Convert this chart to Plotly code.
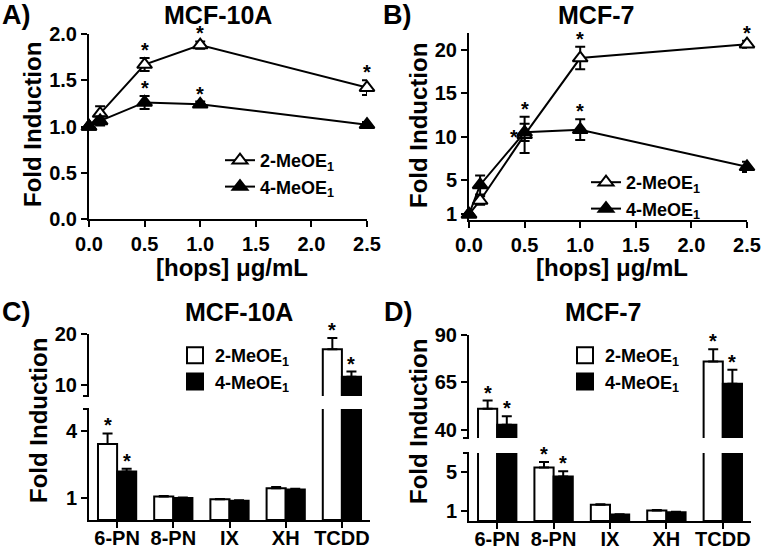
import plotly.graph_objects as go

W, H = 762, 549
FONT = "Liberation Sans, Arial, Helvetica, sans-serif"

# ---------------- data ----------------
doses = [0.0, 0.1, 0.5, 1.0, 2.5]
dose_ticks = [0.0, 0.5, 1.0, 1.5, 2.0, 2.5]

# Panel A: MCF-10A
a_2meo = [1.00, 1.14, 1.67, 1.88, 1.42]
a_2meo_err = [0.0, 0.08, 0.07, 0.04, 0.08]
a_4meo = [1.00, 1.06, 1.26, 1.24, 1.02]
a_4meo_err = [0.0, 0.05, 0.07, 0.03, 0.03]
a_2meo_sig = [False, False, True, True, True]
a_4meo_sig = [False, False, True, True, False]
a_yticks = [0.0, 0.5, 1.0, 1.5, 2.0]

# Panel B: MCF-7
b_2meo = [1.0, 2.6, 10.2, 19.1, 20.7]
b_2meo_err = [0.0, 0.5, 2.1, 1.3, 0.4]
b_4meo = [1.0, 4.4, 10.5, 10.8, 6.5]
b_4meo_err = [0.0, 1.1, 1.0, 1.2, 0.6]
b_2meo_sig = [False, False, True, True, True]
b_4meo_sig = [False, False, True, True, False]
b_yticks = [1, 5, 10, 15, 20]

# Panels C/D: compounds
compounds = ["6-PN", "8-PN", "IX", "XH", "TCDD"]
c_2meo = [3.42, 1.06, 0.93, 1.43, 17.0]
c_2meo_err = [0.48, 0.02, 0.02, 0.06, 2.2]
c_4meo = [2.18, 0.99, 0.87, 1.37, 11.6]
c_4meo_err = [0.13, 0.02, 0.02, 0.04, 1.0]
c_2meo_sig = [True, False, False, False, True]
c_4meo_sig = [True, False, False, False, True]

d_2meo = [51.0, 5.5, 1.67, 1.07, 76.0]
d_2meo_err = [4.4, 0.57, 0.06, 0.05, 6.5]
d_4meo = [42.6, 4.57, 0.67, 0.90, 64.3]
d_4meo_err = [4.5, 0.56, 0.03, 0.04, 7.3]
d_2meo_sig = [True, True, False, False, True]
d_4meo_sig = [True, True, False, False, True]

c_low_ticks, c_up_ticks = [1, 4], [10, 20]
d_low_ticks, d_up_ticks = [1, 5], [40, 65, 90]

NAME2 = "2-MeOE<sub>1</sub>"
NAME4 = "4-MeOE<sub>1</sub>"


def fx(p):
    return p / W


def fy(p):
    return 1 - p / H


fig = go.Figure()
ann = []

STAR_FONT = dict(family=FONT, size=20, color="black", weight="bold")
BARGAP = 0.32


def add_star(xa, ya, x, y, xshift=0, side="top"):
    d = dict(text="*", x=x, y=y, xref=xa, yref=ya, showarrow=False,
             font=STAR_FONT, xshift=xshift)
    if side == "top":
        d.update(xanchor="center", yanchor="bottom", yshift=-5)
    else:
        d.update(xanchor="right", yanchor="middle", xshift=xshift - 5,
                 yshift=-5)
    ann.append(d)


def line_panel(xa, ya, leg, series, star_sides):
    for (name, vals, errs, fill, grp) in series:
        fig.add_trace(go.Scatter(
            x=doses, y=vals, mode="lines+markers", name=name,
            legend=leg, legendgroup=leg + grp,
            line=dict(color="black", width=2),
            marker=dict(symbol="triangle-up", size=13, color=fill,
                        line=dict(color="black", width=2)),
            error_y=dict(type="data", array=errs, color="black",
                         thickness=2, width=5),
            cliponaxis=False, xaxis=xa, yaxis=ya))
    for (name, vals, errs, fill, grp), (sig, sides) in zip(series, star_sides):
        for d, v, e, s, side in zip(doses, vals, errs, sig, sides):
            if s:
                add_star(xa, ya, d, v + e if side == "top" else v, 0, side)


T = "top"
line_panel("x", "y", "legend",
           [(NAME2, a_2meo, a_2meo_err, "white", "2"),
            (NAME4, a_4meo, a_4meo_err, "black", "4")],
           [(a_2meo_sig, [T] * 5), (a_4meo_sig, [T] * 5)])
line_panel("x2", "y2", "legend2",
           [(NAME2, b_2meo, b_2meo_err, "white", "2"),
            (NAME4, b_4meo, b_4meo_err, "black", "4")],
           [(b_2meo_sig, [T] * 5),
            (b_4meo_sig, [T, T, "left", T, T])])


def bar_panel(axes, leg, series, lower_top, width_px):
    (xl, yl), (xu, yu) = axes
    cat_px = width_px / len(compounds)
    half = cat_px * (1 - BARGAP) / 4.0
    for part, xa, ya in (("lower", xl, yl), ("upper", xu, yu)):
        for (name, vals, errs, sig, fill, grp) in series:
            fig.add_trace(go.Bar(
                x=compounds, y=vals, offsetgroup=grp,
                marker=dict(color=fill, line=dict(color="black", width=2)),
                error_y=dict(type="data", symmetric=False, array=errs,
                             arrayminus=[0] * len(errs), color="black",
                             thickness=2, width=5),
                showlegend=False, xaxis=xa, yaxis=ya))
    for k, (name, vals, errs, sig, fill, grp) in enumerate(series):
        shift = -half if k == 0 else half
        for c, v, e, s in zip(compounds, vals, errs, sig):
            if not s:
                continue
            top = v + e
            if top > lower_top:
                add_star(xu, yu, c, top, shift)
            else:
                add_star(xl, yl, c, top, shift)
    for (name, vals, errs, sig, fill, grp) in series:
        fig.add_trace(go.Scatter(
            x=[None], y=[None], mode="markers", name=name, legend=leg,
            marker=dict(symbol="square", size=16, color=fill,
                        line=dict(color="black", width=2)),
            xaxis=xl, yaxis=yl))


C_LOW = [0, 5]
C_UP = [7.8, 20]
D_LOW = [0, 7]
D_UP = [35.6, 90]

# pixel geometry of panels
A_X = (89, 367); A_Y = (219, 34)
B_X = (469, 747); B_Y = (220, 33)
C_X = (89, 370); C_LY = (520, 409); C_UY = (396, 334)
D_X = (469, 751); D_LY = (521, 453); D_UY = (438, 335)

bar_panel((("x3", "y3"), ("x4", "y4")), "legend3",
          [(NAME2, c_2meo, c_2meo_err, c_2meo_sig, "white", "2"),
           (NAME4, c_4meo, c_4meo_err, c_4meo_sig, "black", "4")],
          C_LOW[1], C_X[1] - C_X[0])
bar_panel((("x5", "y5"), ("x6", "y6")), "legend4",
          [(NAME2, d_2meo, d_2meo_err, d_2meo_sig, "white", "2"),
           (NAME4, d_4meo, d_4meo_err, d_4meo_sig, "black", "4")],
          D_LOW[1], D_X[1] - D_X[0])

TICKFONT = dict(family=FONT, size=20, color="black", weight="bold")
common = dict(showline=True, linecolor="black", linewidth=2, ticks="outside",
              ticklen=6, tickwidth=2, tickcolor="black", showgrid=False,
              zeroline=False, tickfont=TICKFONT, fixedrange=True,
              automargin=False)


def dom_x(p):
    return [fx(p[0]), fx(p[1])]


def dom_y(p):
    return [fy(p[0]), fy(p[1])]


legend_font = dict(family=FONT, size=18, color="black", weight="bold")
leg_common = dict(font=legend_font, bgcolor="rgba(0,0,0,0)", borderwidth=0,
                  xanchor="left", yanchor="top", itemwidth=30,
                  traceorder="normal")

fig.update_layout(
    template="none",
    width=W, height=H, autosize=False,
    margin=dict(l=0, r=0, t=0, b=0, pad=0, autoexpand=False),
    paper_bgcolor="white", plot_bgcolor="white",
    font=dict(family=FONT, color="black"),
    barmode="group", bargap=BARGAP, bargroupgap=0,
    xaxis=dict(common, domain=dom_x(A_X), range=[0, 2.5], tickvals=dose_ticks,
               tickformat=".1f", anchor="y"),
    yaxis=dict(common, domain=dom_y(A_Y), range=[0, 2], tickvals=a_yticks,
               tickformat=".1f", anchor="x"),
    xaxis2=dict(common, domain=dom_x(B_X), range=[0, 2.5], tickvals=dose_ticks,
                tickformat=".1f", anchor="y2"),
    yaxis2=dict(common, domain=dom_y(B_Y), range=[0.34, 22], tickvals=b_yticks,
                anchor="x2"),
    xaxis3=dict(common, domain=dom_x(C_X), type="category",
                range=[-0.5, 4.5], anchor="y3", ticklabelstandoff=-7),
    yaxis3=dict(common, domain=dom_y(C_LY), range=C_LOW, tickvals=c_low_ticks,
                anchor="x3"),
    xaxis4=dict(domain=dom_x(C_X), matches="x3", visible=False, anchor="y4",
                type="category", range=[-0.5, 4.5], automargin=False),
    yaxis4=dict(common, domain=dom_y(C_UY), range=C_UP, tickvals=c_up_ticks,
                anchor="x4"),
    xaxis5=dict(common, domain=dom_x(D_X), type="category",
                range=[-0.5, 4.5], anchor="y5", ticklabelstandoff=-7),
    yaxis5=dict(common, domain=dom_y(D_LY), range=D_LOW, tickvals=d_low_ticks,
                anchor="x5"),
    xaxis6=dict(domain=dom_x(D_X), matches="x5", visible=False, anchor="y6",
                type="category", range=[-0.5, 4.5], automargin=False),
    yaxis6=dict(common, domain=dom_y(D_UY), range=D_UP, tickvals=d_up_ticks,
                anchor="x6"),
    legend=dict(leg_common, x=fx(220), y=fy(142), tracegroupgap=5),
    legend2=dict(leg_common, x=fx(586), y=fy(164), tracegroupgap=0),
    legend3=dict(leg_common, x=fx(175), y=fy(337), tracegroupgap=0),
    legend4=dict(leg_common, x=fx(565), y=fy(337), tracegroupgap=0),
    showlegend=True,
)

# axis-break end caps
shapes = []
for xpx, ypx in [(C_X[0], C_LY[1]), (C_X[0], C_UY[0]),
                 (D_X[0], D_LY[1]), (D_X[0], D_UY[0])]:
    shapes.append(dict(type="line", xref="paper", yref="paper",
                       x0=fx(xpx - 6), x1=fx(xpx), y0=fy(ypx), y1=fy(ypx),
                       line=dict(color="black", width=2)))
fig.update_layout(shapes=shapes)


def add_text(text, xpx, ypx, size, xanchor="center", angle=0):
    ann.append(dict(text=text, x=fx(xpx), y=fy(ypx), xref="paper",
                    yref="paper", showarrow=False, xanchor=xanchor,
                    yanchor="middle", textangle=angle,
                    font=dict(family=FONT, size=size, color="black",
                              weight="bold")))


add_text("A)", 0, 15, 27, "left")
add_text("B)", 381, 15, 27, "left")
add_text("C)", 0, 312, 27, "left")
add_text("D)", 382, 312, 27, "left")
add_text("MCF-10A", 218, 15, 25)
add_text("MCF-7", 596, 15, 25)
add_text("MCF-10A", 239, 312, 25)
add_text("MCF-7", 603, 312, 25)
add_text("Fold Induction", 32, 125, 24, angle=-90)
add_text("Fold Induction", 418, 125, 24, angle=-90)
add_text("Fold Induction", 38, 421, 24, angle=-90)
add_text("Fold Induction", 418, 421, 24, angle=-90)
add_text("[hops] μg/mL", 232, 267, 24)
add_text("[hops] μg/mL", 612, 267, 24)
fig.update_layout(annotations=ann)

fig.write_html(
    "out.html",
    config={"displayModeBar": False},
    post_script="document.body.style.margin='0px';"
                "document.body.style.overflow='hidden';")
